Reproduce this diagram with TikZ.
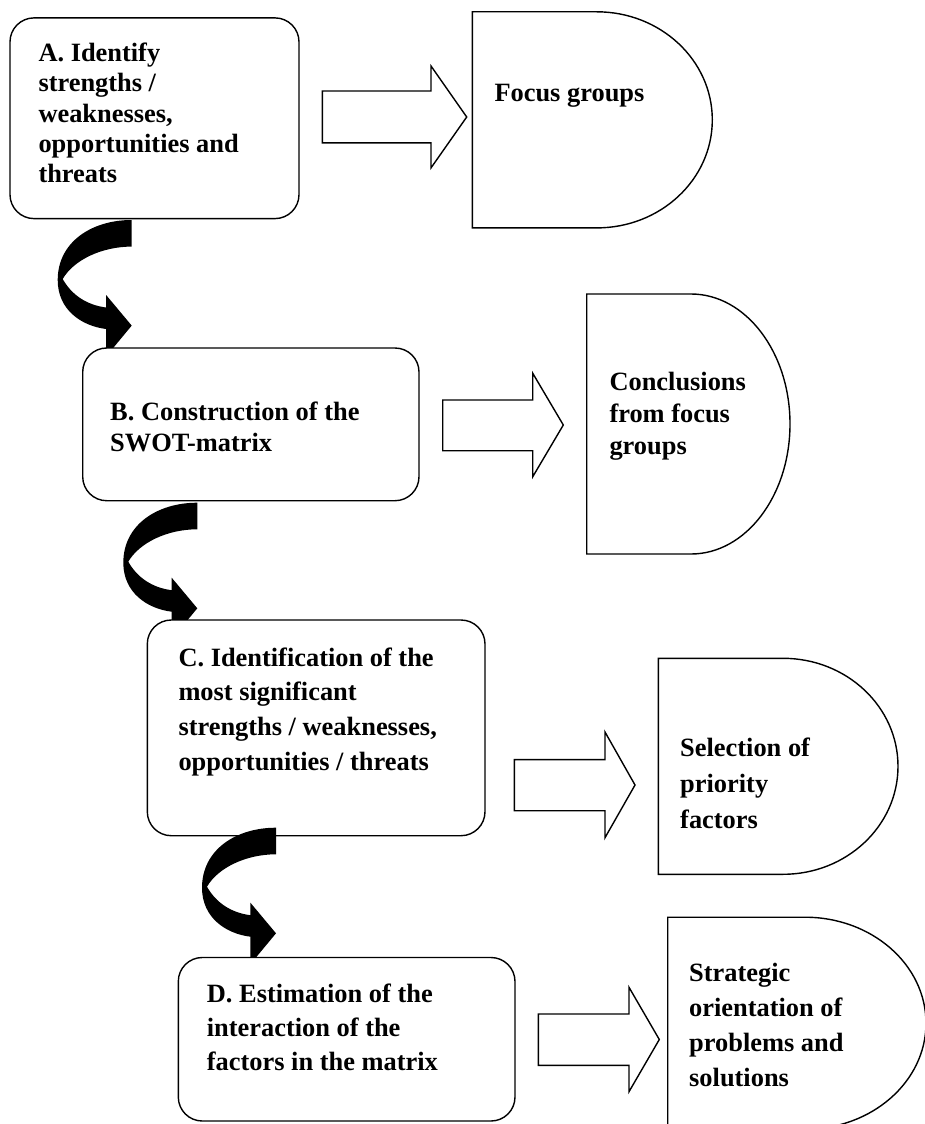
\documentclass[tikz,border=0pt]{standalone}
\usepackage{fontspec}
\setmainfont{Liberation Serif}
\newcommand\boxtext[2]{\parbox[t]{330pt}{\fontsize{26.4}{#1}\selectfont\bfseries\raggedright #2}}
\begin{document}
\begin{tikzpicture}[x=1pt,y=1pt,
  box/.style={draw, line width=1.4pt, rounded corners=24pt, fill=white, inner sep=0pt},
  delayshape/.style={draw, line width=1.4pt, fill=white},
  blockarrow/.style={draw, line width=1.4pt, fill=white, line join=miter},
  txt/.style={anchor=base west, inner sep=0pt},
  curvarrow/.pic={
    \fill[black] (0,0) .. controls (-40,0) and (-74,-22) .. (-74,-60)
      .. controls (-74,-90) and (-50,-106) .. (-25.6,-109)
      -- (-25.6,-136.5) -- (0,-105.6) -- (-25.6,-75) -- (-25.6,-87.5)
      .. controls (-45,-85) and (-60,-75) .. (-69,-59)
      .. controls (-58,-40) and (-30,-26.6) .. (0,-26.6) -- cycle;
  }
]
\useasboundingbox (0,0) rectangle (925,-1124);
\fill[white] (0,0) rectangle (925,-1124);
\clip (0,0) rectangle (925,-1124);

% ---- delay shapes (outputs)
\path[delayshape] (472.3,-11.8) coordinate (F1) -- (596.7,-11.8)
  arc[start angle=90, end angle=-90, x radius=115.6pt, y radius=108.05pt]
  -- (472.3,-227.9) -- cycle;
\path[delayshape] (586.7,-294) coordinate (F2) -- (691,-294)
  arc[start angle=90, end angle=-90, x radius=99pt, y radius=130pt]
  -- (586.7,-554) -- cycle;
\path[delayshape] (658.3,-658.3) coordinate (F3) -- (783,-658.3)
  arc[start angle=90, end angle=-90, x radius=115pt, y radius=108pt]
  -- (658.3,-874.3) -- cycle;
\path[delayshape] (667.7,-917.2) coordinate (F4) -- (805,-917.2)
  arc[start angle=90, end angle=-90, x radius=121pt, y radius=106pt]
  -- (667.7,-1129.2) -- cycle;

\node[txt] (tF1) at (494.3,-101) {\boxtext{30.4pt}{Focus groups}};
\node[txt] (tF2) at (609.3,-390) {\boxtext{32pt}{Conclusions\\from focus\\groups}};
\node[txt] (tF3) at (680,-756.7) {\boxtext{35.8pt}{Selection of\\priority\\factors}};
\node[txt] (tF4) at (689,-981.6) {\boxtext{34.8pt}{Strategic\\orientation of\\problems and\\solutions}};

% ---- hollow block arrows
\path[blockarrow] (322.3,-91) -- (431,-91) -- (431,-66) -- (466.7,-117)
  -- (431,-167.9) -- (431,-142.9) -- (322.3,-142.9) -- cycle;
\path[blockarrow] (442.7,-400) -- (532.7,-400) -- (532.7,-373.2) -- (563.3,-425)
  -- (532.7,-476.8) -- (532.7,-450.7) -- (442.7,-450.7) -- cycle;
\path[blockarrow] (514.3,-759.6) -- (605,-759.6) -- (605,-732) -- (635,-785)
  -- (605,-837.7) -- (605,-810.7) -- (514.3,-810.7) -- cycle;
\path[blockarrow] (538.3,-1014) -- (629,-1014) -- (629,-987.3) -- (659.3,-1039.5)
  -- (629,-1091.7) -- (629,-1065.4) -- (538.3,-1065.4) -- cycle;

% ---- steps with curved connectors
\node[box, minimum width=289pt, minimum height=200.7pt] (A) at (154.5,-118.25) {};
\node[txt] (tA) at (38.3,-61.4) {\boxtext{30.4pt}{A. Identify\\strengths /\\weaknesses,\\opportunities and\\threats}};
\pic (ca1) at (131.7,-220) {curvarrow};

\node[box, minimum width=336.3pt, minimum height=152.7pt] (B) at (250.85,-424.35) {};
\node[txt] (tB) at (110,-420.7) {\boxtext{31pt}{B. Construction of the\\SWOT-matrix}};
\pic (ca2) at (197.3,-502.7) {curvarrow};

\node[box, minimum width=337.7pt, minimum height=215.7pt] (C) at (316.15,-727.85) {};
\node[txt] (tC) at (178.3,-666) {\boxtext{34.9pt}{C. Identification of the\\most significant\\strengths / weaknesses,\\opportunities / threats}};
\pic (ca3) at (276,-827.7) {curvarrow};

\node[box, minimum width=336.7pt, minimum height=163.5pt] (D) at (346.65,-1039.25) {};
\node[txt] (tD) at (206.7,-1002.4) {\boxtext{33.8pt}{D. Estimation of the\\interaction of the\\factors in the matrix}};
\end{tikzpicture}
\end{document}
